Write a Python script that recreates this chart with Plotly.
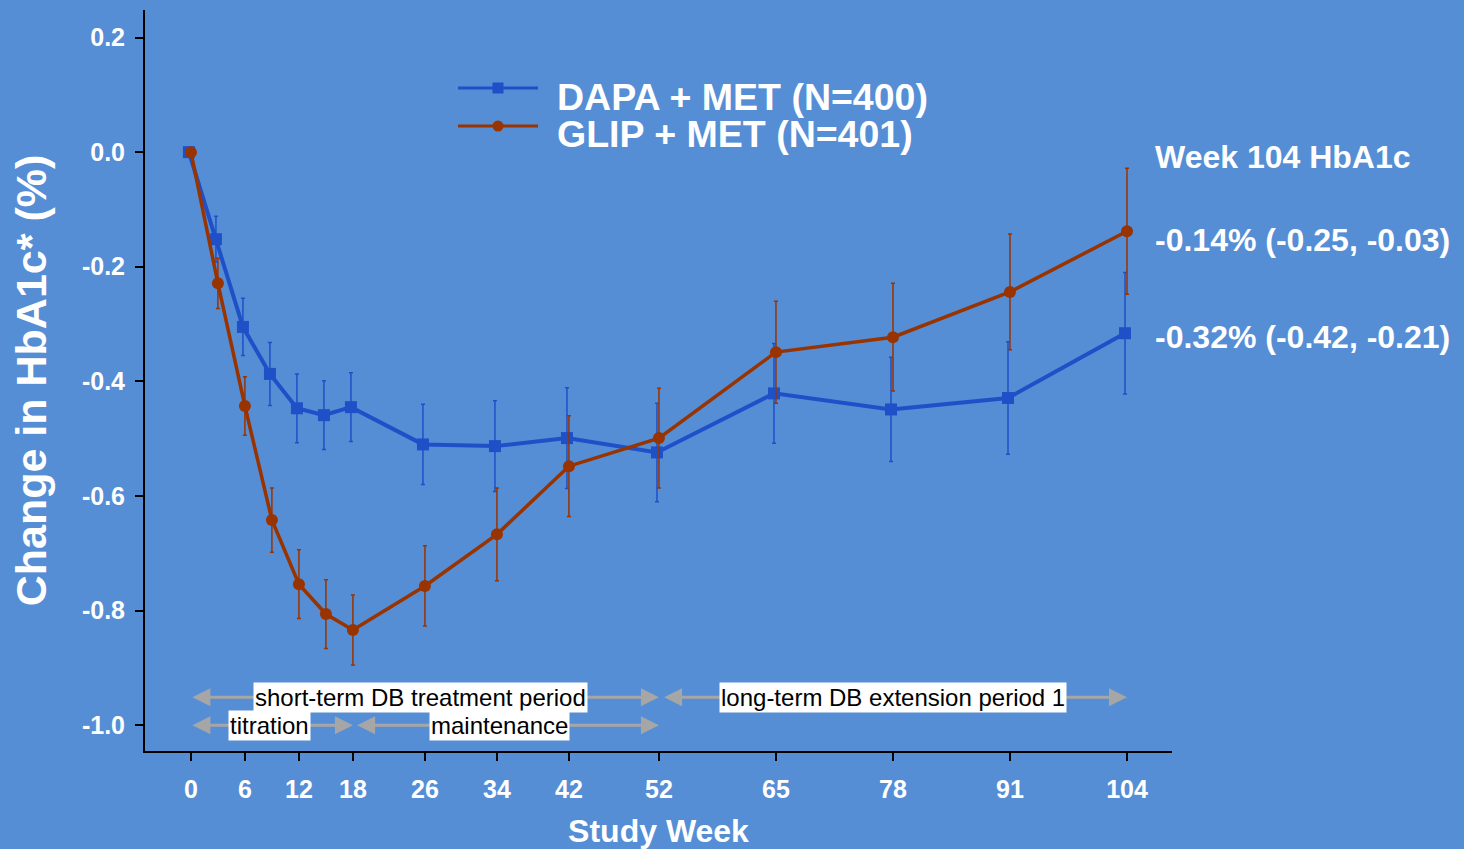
import plotly.graph_objects as go

# ---------------- data ----------------
weeks = [0, 3, 6, 9, 12, 15, 18, 26, 34, 42, 52, 65, 78, 91, 104]

dapa_mean = [0.0, -0.152, -0.305, -0.387, -0.447, -0.459, -0.445, -0.510, -0.513,
             -0.499, -0.524, -0.421, -0.449, -0.429, -0.316]
dapa_err = [0.0, 0.040, 0.050, 0.055, 0.060, 0.060, 0.060, 0.070, 0.079,
            0.088, 0.086, 0.087, 0.091, 0.098, 0.106]

glip_mean = [0.0, -0.229, -0.443, -0.642, -0.754, -0.806, -0.834, -0.757, -0.667,
             -0.548, -0.499, -0.349, -0.323, -0.244, -0.138]
glip_err = [0.0, 0.044, 0.051, 0.056, 0.060, 0.060, 0.061, 0.070, 0.081,
            0.088, 0.087, 0.089, 0.094, 0.101, 0.110]

x_ticks = [0, 6, 12, 18, 26, 34, 42, 52, 65, 78, 91, 104]
y_ticks = [0.2, 0.0, -0.2, -0.4, -0.6, -0.8, -1.0]
y_tick_labels = ["0.2", "0.0", "-0.2", "-0.4", "-0.6", "-0.8", "-1.0"]

series_names = ["DAPA + MET (N=400)", "GLIP + MET (N=401)"]
week104_title = "Week 104 HbA1c"
week104_glip = "-0.14% (-0.25, -0.03)"
week104_dapa = "-0.32% (-0.42, -0.21)"

# periods: (start week, end week, row y, label, label centre week)
periods = [
    (0, 52, -0.951, "short-term DB treatment period", 25.5),
    (52.4, 104, -0.951, "long-term DB extension period 1", 78),
    (0, 18, -1.0, "titration", 8.7),
    (18.3, 52, -1.0, "maintenance", 34.3),
]

# ---------------- style ----------------
BG = "#558ED5"
BLUE = "#1E50C8"
RED = "#993300"
FONT = "Arial, Liberation Sans, sans-serif"

L, R, T, B = 145, 292, 10, 98
W, H = 1464, 849
pw, ph = W - L - R, H - T - B


def px_x(v):
    return (v - L) / pw


def px_y(v):
    return (H - B - v) / ph


fig = go.Figure()

fig.add_trace(go.Scatter(
    x=[w - 0.22 for w in weeks], y=dapa_mean, name=series_names[0],
    mode="lines+markers",
    line=dict(color=BLUE, width=4),
    marker=dict(symbol="square", size=12, color=BLUE),
    error_y=dict(type="data", array=dapa_err, visible=True, color=BLUE,
                 thickness=1.5, width=2),
))
fig.add_trace(go.Scatter(
    x=weeks, y=glip_mean, name=series_names[1],
    mode="lines+markers",
    line=dict(color=RED, width=3.5),
    marker=dict(symbol="circle", size=12, color=RED),
    error_y=dict(type="data", array=glip_err, visible=True, color=RED,
                 thickness=1.5, width=2),
))

annotations = []
for x0, x1, yy, label, xc in periods:
    annotations.append(dict(
        x=x1, y=yy, ax=x0, ay=yy, xref="x", yref="y", axref="x", ayref="y",
        text="", showarrow=True, arrowhead=2, arrowside="end+start",
        arrowsize=1.2, arrowwidth=3, arrowcolor="#A6A6A6",
    ))
    annotations.append(dict(
        x=xc, y=yy, xref="x", yref="y", text=label, showarrow=False,
        bgcolor="white", borderpad=1,
        font=dict(family=FONT, size=24, color="black"),
    ))

# right-side texts
for txt, yy, fs in [(week104_title, 157, 32), (week104_glip, 240, 32),
                    (week104_dapa, 337, 32)]:
    annotations.append(dict(
        x=px_x(1153), y=px_y(yy), xref="paper", yref="paper",
        text="<b>%s</b>" % txt, showarrow=False, xanchor="left",
        yanchor="middle", font=dict(family=FONT, size=fs, color="white"),
    ))

# custom legend
shapes = []
legend_items = [(series_names[0], BLUE, "square", 88, 97),
                (series_names[1], RED, "circle", 126, 134)]
for name, col, sym, ly, ty in legend_items:
    shapes.append(dict(type="line", xref="paper", yref="paper",
                       x0=px_x(458), x1=px_x(538), y0=px_y(ly), y1=px_y(ly),
                       line=dict(color=col, width=3)))
    shapes.append(dict(type="rect" if sym == "square" else "circle",
                       xref="paper", yref="paper",
                       xsizemode="pixel", ysizemode="pixel",
                       xanchor=px_x(498), yanchor=px_y(ly),
                       x0=-5.5, x1=5.5, y0=-5.5, y1=5.5,
                       fillcolor=col, line=dict(width=0)))
    annotations.append(dict(
        x=px_x(555), y=px_y(ty), xref="paper", yref="paper",
        text="<b>%s</b>" % name, showarrow=False, xanchor="left",
        yanchor="middle", font=dict(family=FONT, size=37.5, color="white"),
    ))

fig.update_layout(
    width=W, height=H,
    margin=dict(l=L, r=R, t=T, b=B, autoexpand=False),
    paper_bgcolor=BG, plot_bgcolor=BG,
    font=dict(family=FONT, color="white"),
    showlegend=False,
    annotations=annotations,
    shapes=shapes,
    xaxis=dict(
        range=[-5.1, 109], tickvals=x_ticks, ticktext=[str(t) for t in x_ticks],
        showgrid=False, zeroline=False, showline=True, linecolor="black",
        linewidth=2, ticks="outside", ticklen=8, tickwidth=2, tickcolor="black",
        tickfont=dict(family=FONT, size=25, color="white", weight="bold"),
        ticklabelstandoff=7, automargin=False,
        title=dict(text="<b>Study Week</b>", standoff=20,
                   font=dict(family=FONT, size=32, color="white")),
    ),
    yaxis=dict(
        range=[-1.045, 0.248], tickvals=y_ticks, ticktext=y_tick_labels,
        showgrid=False, zeroline=False, showline=True, linecolor="black",
        linewidth=2, ticks="outside", ticklen=8, tickwidth=2, tickcolor="black",
        tickfont=dict(family=FONT, size=25, color="white", weight="bold"),
        ticklabelstandoff=5, automargin=False,
        title=dict(text="<b>Change in HbA1c* (%)</b>", standoff=22,
                   font=dict(family=FONT, size=43, color="white")),
    ),
)

fig.write_html("out.html")
